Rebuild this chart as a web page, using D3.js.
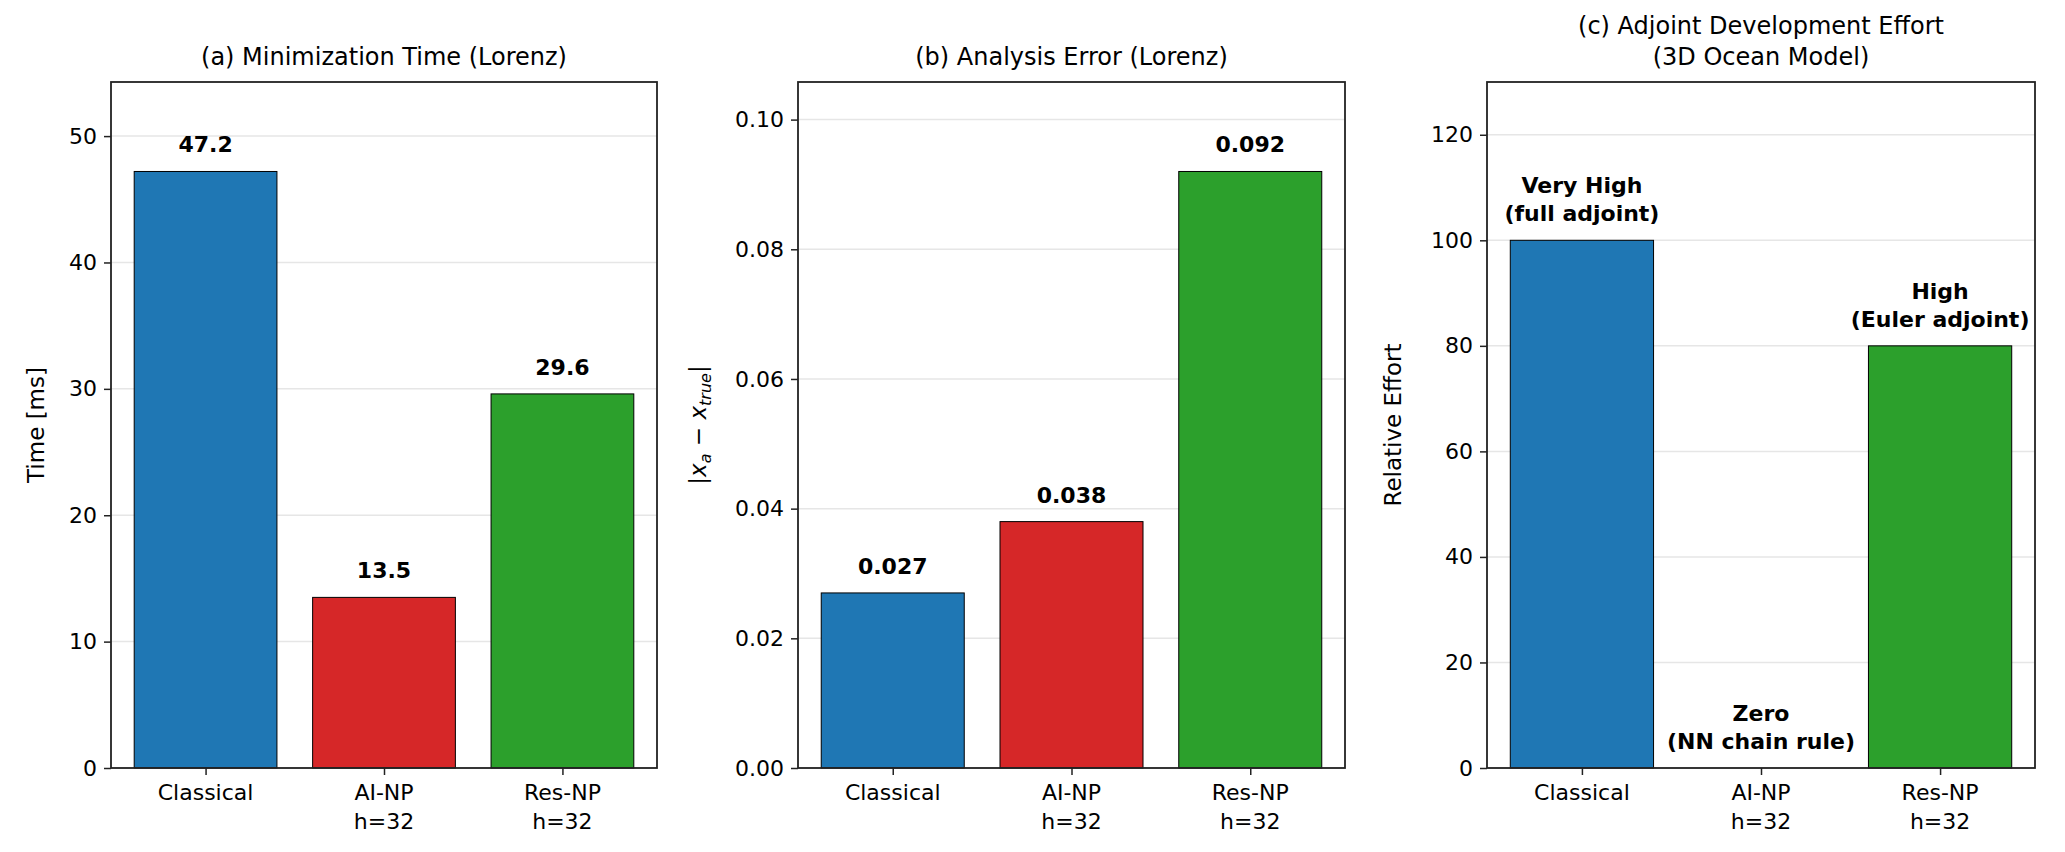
<!DOCTYPE html>
<html><head><meta charset="utf-8">
<script src="https://cdn.jsdelivr.net/npm/d3@7"></script>
<style>body{margin:0;background:#fff}svg{font-family:"DejaVu Sans",sans-serif}</style>
</head><body><svg id="c" width="2065" height="852"></svg>
<script>
const categories = [["Classical"],["AI-NP","h=32"],["Res-NP","h=32"]];
const colors = ["#1f77b4","#d62728","#2ca02c"];
const timeValues = [47.2,13.5,29.6];
const timeLabels = ["47.2","13.5","29.6"];
const errorValues = [0.027,0.038,0.092];
const errorLabels = ["0.027","0.038","0.092"];
const effortValues = [100,0,80];
const effortLabels = [["Very High","(full adjoint)"],["Zero","(NN chain rule)"],["High","(Euler adjoint)"]];
const timeTicks = [0,10,20,30,40,50];
const errorTicks = [0,0.02,0.04,0.06,0.08,0.10];
const effortTicks = [0,20,40,60,80,100,120];

(function(){
const svg = d3.select("#c");
const topY = 82, bottomY = 768;
const panels = [
  {x0:111,x1:657,title:["(a) Minimization Time (Lorenz)"],vals:timeValues,labels:timeLabels.map(d=>[d]),ymax:47.2*1.15,ticks:timeTicks,fmt:d=>d3.format("d")(d),ylab:"Time [ms]",ylx:36},
  {x0:798,x1:1345,title:["(b) Analysis Error (Lorenz)"],vals:errorValues,labels:errorLabels.map(d=>[d]),ymax:0.092*1.15,ticks:errorTicks,fmt:d3.format(".2f"),ylab:null,ylx:698},
  {x0:1487,x1:2035,title:["(c) Adjoint Development Effort","(3D Ocean Model)"],vals:effortValues,labels:effortLabels,ymax:130,ticks:effortTicks,fmt:d=>d3.format("d")(d),ylab:"Relative Effort",ylx:1393}
];
panels.forEach(p=>{
  const x = d3.scaleLinear().domain([-0.53,2.53]).range([p.x0,p.x1]);
  const y = d3.scaleLinear().domain([0,p.ymax]).range([bottomY,topY]);
  const g = svg.append("g");
  g.selectAll(".gl").data(p.ticks).join("line").attr("x1",p.x0).attr("x2",p.x1)
    .attr("y1",d=>y(d)).attr("y2",d=>y(d)).attr("stroke","#e6e6e6").attr("stroke-width",1.5);
  g.selectAll(".b").data(p.vals).join("rect")
    .attr("x",(d,i)=>x(i-0.4)).attr("width",x(0.8)-x(0))
    .attr("y",d=>y(d)).attr("height",d=>y(0)-y(d))
    .attr("fill",(d,i)=>colors[i]).attr("stroke","#000").attr("stroke-width",1);
  p.vals.forEach((v,i)=>{
    const lines = p.labels[i];
    const t = g.append("text").attr("x",x(i)).attr("font-size",22).attr("font-weight","bold").attr("text-anchor","middle");
    lines.forEach((l,k)=>{
      t.append("tspan").attr("x",x(i)).attr("y",y(v)-27-(lines.length-1-k)*28+8).text(l);
    });
  });
  g.append("rect").attr("x",p.x0).attr("y",topY).attr("width",p.x1-p.x0).attr("height",bottomY-topY)
    .attr("fill","none").attr("stroke","#222").attr("stroke-width",1.8);
  const ya = g.append("g").attr("transform",`translate(${p.x0},0)`).call(d3.axisLeft(y).tickValues(p.ticks).tickFormat(p.fmt).tickSize(7).tickPadding(7));
  ya.select(".domain").remove();
  ya.selectAll("text").attr("font-size",22).attr("fill","#000").attr("font-family","DejaVu Sans");
  ya.selectAll("line").attr("stroke","#222").attr("stroke-width",1.5);
  const xa = g.append("g").attr("transform",`translate(0,${bottomY})`).call(d3.axisBottom(x).tickValues([0,1,2]).tickFormat("").tickSize(7));
  xa.select(".domain").remove();
  xa.selectAll("line").attr("stroke","#222").attr("stroke-width",1.5);
  categories.forEach((c,i)=>{
    c.forEach((l,k)=>g.append("text").attr("x",x(i)).attr("y",800+k*29).attr("text-anchor","middle").attr("font-size",22).text(l));
  });
  const tl = p.title;
  tl.forEach((l,k)=>g.append("text").attr("x",(p.x0+p.x1)/2).attr("y",65-(tl.length-1-k)*31).attr("text-anchor","middle").attr("font-size",24).text(l));
  const yl = g.append("text").attr("transform",`translate(${p.ylx},${(topY+bottomY)/2}) rotate(-90)`).attr("text-anchor","middle").attr("dy","0.35em").attr("font-size",23);
  if(p.ylab) yl.text(p.ylab);
  else {
    yl.append("tspan").text("|");
    yl.append("tspan").attr("font-style","italic").text("x");
    yl.append("tspan").attr("font-style","italic").attr("font-size",16).attr("dy",5).text("a");
    yl.append("tspan").attr("dy",-5).text(" \u2212 ");
    yl.append("tspan").attr("font-style","italic").text("x");
    yl.append("tspan").attr("font-style","italic").attr("font-size",16).attr("dy",5).text("true");
    yl.append("tspan").attr("dy",-5).text("|");
  }
});
})();
</script></body></html>
